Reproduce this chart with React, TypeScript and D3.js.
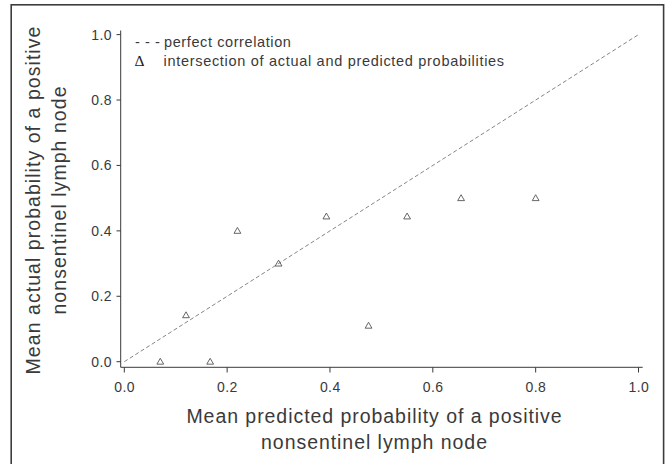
import * as React from 'react'
import * as d3 from 'd3'

// predicted vs actual probability
const predicted = [0.07, 0.12, 0.167, 0.22, 0.30, 0.393, 0.475, 0.55, 0.655, 0.80]
const actual = [0.0, 0.142, 0.0, 0.40, 0.30, 0.444, 0.11, 0.444, 0.50, 0.50]
const tickValues = [0, 0.2, 0.4, 0.6, 0.8, 1.0]
const diagonal = [0, 1]

const W = 668
const H = 464
const FONT = '"Liberation Sans", Arial, sans-serif'
const INK = '#3a3a3a'

const App = () => {
  const x = d3.scaleLinear().domain([0, 1]).range([124.3, 638.5])
  const y = d3.scaleLinear().domain([0, 1]).range([361.7, 34.6])
  const fmt = d3.format('.1f')

  const line = d3.line<number>().x(d => x(d)).y(d => y(d))
  const tri = d3.symbol().type(d3.symbolTriangle).size(20)

  return (
    <div style={{ position: 'absolute', left: 0, top: 0 }}>
      <svg width={W} height={H} style={{ display: 'block', background: '#fff' }}>
        {/* frame */}
        <rect x={11.2} y={4.8} width={652.4} height={480} fill="none" stroke="#3c3c3c" strokeWidth={1.6} />

        {/* y axis */}
        <line x1={120.7} x2={120.7} y1={30.5} y2={367.3} stroke={INK} strokeWidth={1} />
        {tickValues.map(t => (
          <g key={'y' + t}>
            <line x1={116.5} x2={120.7} y1={y(t)} y2={y(t)} stroke={INK} strokeWidth={1} />
            <text x={112} y={y(t)} dy="0.36em" textAnchor="end" fontFamily={FONT}
              fontSize={14} fill={INK} letterSpacing={0.4}>{fmt(t)}</text>
          </g>
        ))}

        {/* x axis */}
        <line x1={120.7} x2={642.7} y1={367.3} y2={367.3} stroke={INK} strokeWidth={1} />
        {tickValues.map(t => (
          <g key={'x' + t}>
            <line x1={x(t)} x2={x(t)} y1={367.3} y2={372.5} stroke={INK} strokeWidth={1} />
            <text x={x(t) + 0.3} y={392} textAnchor="middle" fontFamily={FONT}
              fontSize={14} fill={INK} letterSpacing={0.4}>{fmt(t)}</text>
          </g>
        ))}

        {/* perfect correlation */}
        <path d={line(diagonal) || ''} fill="none" stroke="#666" strokeWidth={0.8} strokeDasharray="4,2.5" />

        {/* points */}
        {predicted.map((p, i) => (
          <path key={i} d={tri() || ''} transform={`translate(${x(p)},${y(actual[i]) + 0.5})`}
            fill="none" stroke="#555" strokeWidth={0.9} />
        ))}

        {/* legend */}
        <text x={135} y={46.5} fontFamily={FONT} fontSize={14.5} fill={INK}>
          <tspan letterSpacing={0.6}>- - -</tspan>
          <tspan x={164} letterSpacing={0.6}>perfect correlation</tspan>
        </text>
        <text x={134.5} y={66} fontFamily='"Liberation Serif", "DejaVu Serif", serif' fontSize={15.5} fill="#222">Δ</text>
        <text x={163.5} y={66} fontFamily={FONT} fontSize={14.5} fill={INK} letterSpacing={0.7}>
          intersection of actual and predicted probabilities
        </text>

        {/* x title */}
        <text x={374.5} y={423} textAnchor="middle" fontFamily={FONT} fontSize={19.5} fill={INK} letterSpacing={0.95}>
          Mean predicted probability of a positive
        </text>
        <text x={374.5} y={448.5} textAnchor="middle" fontFamily={FONT} fontSize={19.5} fill={INK} letterSpacing={0.95}>
          nonsentinel lymph node
        </text>

        {/* y title */}
        <text transform="translate(39.5,200) rotate(-90)" textAnchor="middle" fontFamily={FONT} fontSize={19.5} fill={INK} letterSpacing={1.05}>
          Mean actual probability of a positive
        </text>
        <text transform="translate(65.5,200) rotate(-90)" textAnchor="middle" fontFamily={FONT} fontSize={19.5} fill={INK} letterSpacing={1.05}>
          nonsentinel lymph node
        </text>
      </svg>
    </div>
  )
}

export default App
